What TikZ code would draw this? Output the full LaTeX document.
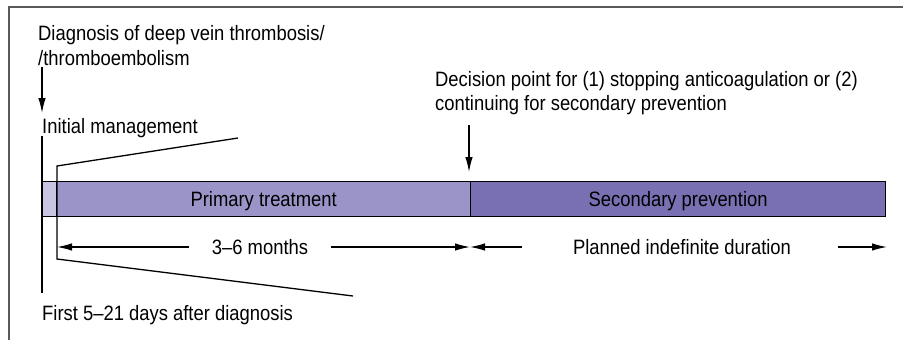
\documentclass[tikz,border=0pt]{standalone}
\usepackage{fontspec}
\setmainfont{Liberation Sans}[FakeStretch=0.885]
\usetikzlibrary{arrows.meta}
\definecolor{lightbar}{RGB}{200,197,227}
\definecolor{primbar}{RGB}{155,148,200}
\definecolor{secbar}{RGB}{120,112,178}
\definecolor{framegray}{RGB}{90,90,90}
\begin{document}
\begin{tikzpicture}[x=1pt,y=-1pt,
  lbl/.style={font=\fontsize{20.8}{24.5}\selectfont, inner sep=0pt, align=left},
  ln/.style={line width=1.3pt, black},
  arr/.style={ln, -{Latex[length=15pt,width=7.5pt]}},
  barbox/.style={draw=black, line width=1.3pt, minimum height=35pt, inner sep=0pt, anchor=north west,
    font=\fontsize{20.8}{24}\selectfont, text height=15pt, text depth=0pt}]
\useasboundingbox (0,0) rectangle (903,340);
\draw[framegray, line width=1.5pt] (9,340) -- (9,7) -- (903,7);
% bar
\node[barbox, fill=lightbar, minimum width=14pt] (lb) at (42,181) {};
\node[barbox, fill=primbar, minimum width=414pt] (pb) at (56,181) {Primary treatment};
\node[barbox, fill=secbar, minimum width=415pt] (sb) at (470,181) {Secondary prevention};
% texts
\node[lbl, anchor=north west] (diag) at (38,25.5) {Diagnosis of deep vein thrombosis/\\/thromboembolism};
\node[lbl, anchor=base west] (init) at (42,133.5) {Initial management};
\node[lbl, anchor=base west] (first) at (42,320.5) {First 5–21 days after diagnosis};
\node[lbl, anchor=north west] (dec) at (435,71) {Decision point for (1) stopping anticoagulation or (2)\\continuing for secondary prevention};
% diagnosis arrow
\coordinate (a1) at (42,67);
\coordinate (a2) at (42,113);
\draw[arr] (a1) -- (a2);
% vertical line
\coordinate (v1) at (42,136);
\coordinate (v2) at (42,293);
\draw[ln] (v1) -- (v2);
% trapezoid
\coordinate (t1) at (238,138);
\coordinate (t2) at (57,166);
\coordinate (t3) at (57,259);
\coordinate (t4) at (353,296);
\draw[ln, line join=miter] (t1) -- (t2) -- (t3) -- (t4);
% decision arrow
\coordinate (d1) at (469,125);
\coordinate (d2) at (469,172);
\draw[arr] (d1) -- (d2);
% 3-6 months
\node[lbl, inner xsep=23pt, text height=15pt, text depth=0pt] (m36) at (260,247) {3–6 months};
\coordinate (m36l) at (57,247);
\coordinate (m36r) at (470,247);
\draw[arr] (m36.west) -- (m36l);
\draw[arr] (m36.east) -- (m36r);
% planned
\node[lbl, text height=15pt, text depth=0pt] (pid) at (682,247) {Planned indefinite duration};
\coordinate (p1) at (522,247);
\coordinate (p2) at (470,247);
\coordinate (p3) at (838,247);
\coordinate (p4) at (887,247);
\draw[arr] (p1) -- (p2);
\draw[arr] (p3) -- (p4);
\end{tikzpicture}
\end{document}
